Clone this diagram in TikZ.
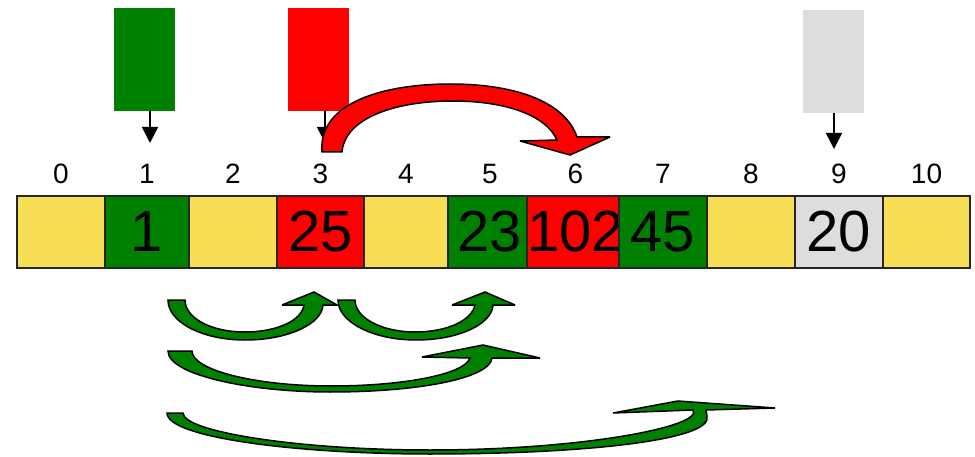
\documentclass[tikz,border=0pt]{standalone}
\usepackage{fontspec}
\setmainfont{Liberation Sans}
\usetikzlibrary{arrows.meta}
\definecolor{cy}{RGB}{248,222,85}
\definecolor{cg}{RGB}{0,128,0}
\definecolor{cr}{RGB}{255,0,0}
\definecolor{cw}{RGB}{221,221,221}
\tikzset{
  cell/.style={draw=black!85, line width=1.5pt, inner sep=0pt, outer sep=0pt,
    minimum height=72pt, font=\fontsize{58}{60}\selectfont},
  idx/.style={inner sep=0pt, font=\fontsize{28}{30}\selectfont},
  topbox/.style={inner sep=0pt, outer sep=0pt, minimum width=61pt, minimum height=103pt},
  down/.style={line width=1.5pt, -{Triangle[width=16pt,length=16pt]}},
  curvearrow/.style={draw=black, line width=1.5pt, line join=miter, miter limit=4},
}
\begin{document}
\begin{tikzpicture}[x=1pt,y=-1pt]
\useasboundingbox (0,0) rectangle (975,457);
% cells and index labels
\foreach \i/\l/\r/\c/\t in {0/17/105/cy/,1/105/189/cg/1,2/189/277/cy/,3/277/364/cr/25,4/364/448/cy/,5/448/532/cg/23,6/532/619/cr/102,7/619/707/cg/45,8/707/795/cy/,9/795/883/cw/20,10/883/970/cy/}{
  \node[cell, fill=\c, minimum width={\r-\l}] (c\i) at ({(\l+\r)/2},232) {\t};
  \node[idx] (n\i) at ({(\l+\r)/2},174) {\i};
}
% top boxes
\node[topbox, fill=cg] (gbox) at (144.5,59.5) {};
\node[topbox, fill=cr] (rbox) at (318.5,59.5) {};
\node[topbox, fill=cw] (wbox) at (833.5,61.5) {};
\coordinate (gt) at (150,143);
\coordinate (rt) at (325,143);
\coordinate (wt) at (834,149);
\draw[down] (gbox.south -| gt) -- (gt);
\draw[down] (rbox.south -| rt) -- (rt);
\draw[down] (wbox.south -| wt) -- (wt);
% red curved arrow
\draw[curvearrow, fill=cr] (322,152) .. controls (318,102) and (385,84) .. (450,84)
  .. controls (520,84) and (566,104) .. (577,137) -- (610,137) -- (570,155) -- (520,141) -- (557,140)
  .. controls (546,115) and (505,101) .. (453,101) .. controls (395,101) and (345,118) .. (342,152) -- cycle;
% green arrow A1
\draw[curvearrow, fill=cg] (168,300) .. controls (168,322) and (202,340) .. (245,340)
  .. controls (288,340) and (322,324) .. (323,305) -- (337,305) -- (314,292) -- (282,305) -- (304,305)
  .. controls (302,320) and (278,332) .. (244.5,332) .. controls (211,332) and (185,318) .. (185,300) -- cycle;
% green arrow A2
\draw[curvearrow, fill=cg] (338,300) .. controls (338,322) and (373,340) .. (416,340)
  .. controls (459,340) and (492,324) .. (493,305) -- (515,305) -- (485,292) -- (452,305) -- (475,305)
  .. controls (472,320) and (448,332) .. (415,332) .. controls (382,332) and (355,318) .. (355,300) -- cycle;
% green arrow B
\draw[curvearrow, fill=cg] (168,351) .. controls (168,375) and (250,392) .. (330,392)
  .. controls (420,392) and (490,378) .. (492,358) -- (540,358) -- (483,345) -- (422,357) -- (470,358)
  .. controls (465,374) and (405,386) .. (331,386) .. controls (255,386) and (192,370) .. (192,351) -- cycle;
% green arrow C
\draw[curvearrow, fill=cg] (167,413) .. controls (167,438) and (300,454) .. (430,454)
  .. controls (585,454) and (714,440) .. (707,416) -- (706,410)
  -- (775,408) -- (678,401) -- (613,413) -- (693,410)
  .. controls (704,426) and (585,450) .. (430,450)
  .. controls (300,450) and (183,432) .. (183,413) -- cycle;
\end{tikzpicture}
\end{document}
